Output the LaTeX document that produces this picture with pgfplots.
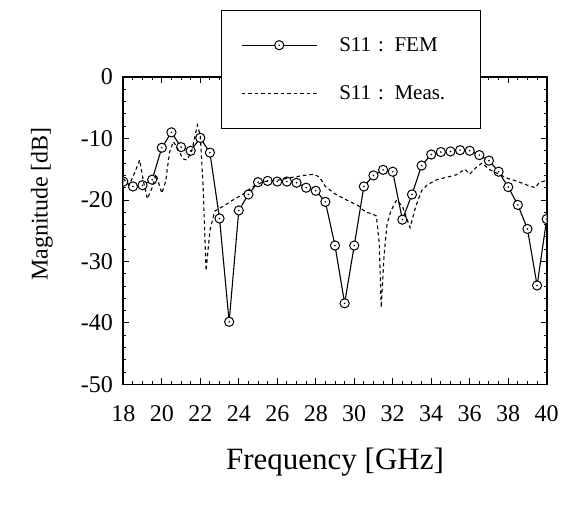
\documentclass[border=0pt]{standalone}
\usepackage{pgfplots}
\pgfplotsset{compat=1.18}
\usepackage{fontspec}
\setmainfont{Liberation Serif}
\pgfdeclareplotmark{odot}{%
  \pgfpathcircle{\pgfpointorigin}{\pgfplotmarksize}%
  \pgfsetfillcolor{white}\pgfusepath{fill,stroke}%
  \pgfpathcircle{\pgfpointorigin}{0.9pt}%
  \pgfsetfillcolor{black}\pgfusepath{fill}}
\begin{document}
\begin{tikzpicture}
\path[use as bounding box] (-123.3pt,-123.5pt) rectangle (438.7pt,384.5pt);
\begin{axis}[
  scale only axis,
  width=423.4pt, height=307.5pt,
  xmin=18, xmax=40, ymin=-50, ymax=0,
  xtick={18,20,...,40},
  xticklabels={18,20,22,24,26,28,30,32,34,36,38,40},
  ytick={-50,-40,-30,-20,-10,0},
  yticklabels={-50,-40,-30,-20,-10,0},
  minor x tick num=3, minor y tick num=4,
  tick align=inside,
  major tick length=6pt, minor tick length=3pt,
  every tick/.style={black, line width=1pt},
  axis line style={line width=1.6pt},
  tick label style={font=\fontsize{24}{26}\selectfont},
  xticklabel style={yshift=-18pt},
  yticklabel style={xshift=-7pt},
  xlabel={Frequency [GHz]},
  ylabel={Magnitude [dB]},
  xlabel style={font=\fontsize{31}{34}\selectfont, at={(rel axis cs:0.5,-0.252)}, anchor=center},
  ylabel style={font=\fontsize{24}{27}\selectfont, at={(rel axis cs:-0.192,0.587)}, anchor=center, rotate=0},
  clip marker paths=true,
  legend style={at={(rel axis cs:0.230,1.2179)}, anchor=north west,
    draw=black, line width=1pt, fill=white,
    font=\fontsize{21}{23}\selectfont,
    inner xsep=20pt, inner ysep=25pt, row sep=29pt, column sep=20pt,
    /tikz/every even column/.append style={text width=119pt, align=left},
    cells={anchor=west}},
  legend cell align=left,
  legend image code/.code={\draw[mark repeat=2,mark phase=2,#1] plot coordinates {(0pt,0pt) (37.5pt,0pt) (75pt,0pt)};},
]
\addplot[black, line width=1.1pt, mark=odot, mark size=4.6pt, mark options={line width=1pt, solid}] coordinates {
(18,-17.0) (18.5,-17.8) (19,-17.6) (19.5,-16.7) (20,-11.5) (20.5,-9.0)
(21,-11.4) (21.5,-12.0) (22,-9.9) (22.5,-12.3) (23,-23.0) (23.5,-39.8)
(24,-21.7) (24.5,-19.1) (25,-17.1) (25.5,-16.9) (26,-17.0) (26.5,-17.0)
(27,-17.2) (27.5,-18.0) (28,-18.5) (28.5,-20.3) (29,-27.4) (29.5,-36.8)
(30,-27.4) (30.5,-17.8) (31,-16.0) (31.5,-15.1) (32,-15.4) (32.5,-23.2)
(33,-19.1) (33.5,-14.4) (34,-12.6) (34.5,-12.2) (35,-12.1) (35.5,-11.9)
(36,-12.0) (36.5,-12.7) (37,-13.6) (37.5,-15.4) (38,-17.9) (38.5,-20.8)
(39,-24.7) (39.5,-33.9) (40,-23.1)
};
\addlegendentry{S11 : FEM}
\addplot[black, line width=1.1pt, dash pattern=on 3.5pt off 3pt] coordinates {
(18.0,-16.5) (18.3,-17.6) (18.6,-15.5) (18.85,-13.5) (19.05,-17.0) (19.25,-19.8)
(19.5,-18.0) (19.7,-15.8) (20.0,-18.9) (20.2,-17.0) (20.4,-12.3) (20.6,-10.5)
(20.8,-11.5) (21.1,-13.3) (21.3,-13.5) (21.55,-12.1) (21.7,-10.0) (21.85,-7.8)
(22.0,-9.5) (22.15,-18.0) (22.3,-31.5) (22.5,-25.0) (22.75,-21.8) (23.2,-21.0)
(23.7,-20.0) (24.2,-19.1) (24.75,-17.8) (25.3,-17.0) (26.0,-16.8) (26.8,-16.3)
(27.4,-16.0) (27.9,-15.8) (28.2,-16.3) (28.5,-17.8) (29.0,-19.0) (29.6,-20.0)
(30.2,-20.9) (30.6,-22.0) (30.9,-22.2) (31.15,-22.6) (31.3,-27.0) (31.4,-37.5)
(31.55,-29.0) (31.7,-24.0) (31.9,-21.8) (32.2,-20.0) (32.5,-21.0) (32.9,-24.5)
(33.2,-21.0) (33.5,-18.5) (33.8,-17.5) (34.3,-16.7) (34.8,-16.3) (35.3,-15.9)
(35.75,-15.0) (36.0,-15.8) (36.4,-14.5) (36.65,-14.0) (37.0,-15.0) (37.5,-15.8)
(38.0,-16.5) (38.5,-17.0) (39.0,-17.6) (39.4,-18.0) (39.6,-17.2) (40.0,-16.8)
};
\addlegendentry{S11 : Meas.}
\end{axis}
\end{tikzpicture}
\end{document}
